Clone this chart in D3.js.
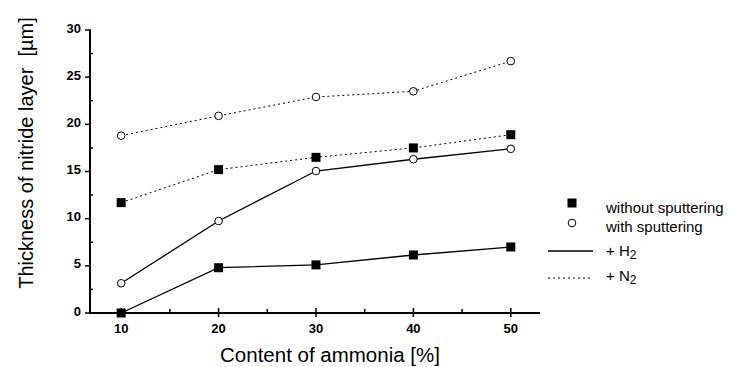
<!DOCTYPE html>
<html>
<head>
<meta charset="utf-8">
<script src="https://cdn.jsdelivr.net/npm/d3@7"></script>
<style>
  body { margin: 0; background: #fff; }
  text { font-family: "Liberation Sans", Arial, sans-serif; }
</style>
</head>
<body>
<div id="chart"></div>
<script>
// data
var ammonia = [10, 20, 30, 40, 50];
var withoutH2 = [0, 4.8, 5.1, 6.15, 7.0];
var withH2 = [3.15, 9.75, 15.05, 16.3, 17.4];
var withoutN2 = [11.7, 15.2, 16.5, 17.5, 18.9];
var withN2 = [18.8, 20.9, 22.9, 23.5, 26.7];
var xTicks = [10, 20, 30, 40, 50];
var yTicks = [0, 5, 10, 15, 20, 25, 30];

var series = [
  {values: withN2, marker: "circle", dash: "2,3"},
  {values: withoutN2, marker: "square", dash: "2,3"},
  {values: withH2, marker: "circle", dash: null},
  {values: withoutH2, marker: "square", dash: null}
];

var width = 729, height = 367;
var margin = {top: 30, right: 189, bottom: 54, left: 90};

var svg = d3.select("#chart")
    .append("svg")
    .attr("width", width)
    .attr("height", height);

var x = d3.scaleLinear()
    .domain([6.8, 53])
    .range([margin.left, width - margin.right]);

var y = d3.scaleLinear()
    .domain([0, 30])
    .range([height - margin.bottom, margin.top]);

// X axis
var xg = svg.append("g")
    .attr("transform", "translate(0," + y(0) + ")");
xg.append("line")
    .attr("x1", x.range()[0]).attr("x2", x.range()[1])
    .attr("stroke", "#000").attr("stroke-width", 2);
xg.selectAll(".major")
    .data(xTicks)
    .enter().append("line")
    .attr("x1", d => x(d)).attr("x2", d => x(d))
    .attr("y1", -5).attr("y2", 4)
    .attr("stroke", "#000").attr("stroke-width", 1.5);
xg.selectAll(".minor")
    .data([15, 25, 35, 45])
    .enter().append("line")
    .attr("x1", d => x(d)).attr("x2", d => x(d))
    .attr("y1", -4).attr("y2", 0)
    .attr("stroke", "#000").attr("stroke-width", 1.5);
xg.selectAll(".lbl")
    .data(xTicks)
    .enter().append("text")
    .attr("x", d => x(d))
    .attr("y", 20)
    .attr("text-anchor", "middle")
    .attr("font-size", 13)
    .attr("font-weight", "bold")
    .text(d => d);

// Y axis
var yg = svg.append("g")
    .attr("transform", "translate(" + x.range()[0] + ",0)");
yg.append("line")
    .attr("y1", y(0) + 1).attr("y2", y(30))
    .attr("stroke", "#000").attr("stroke-width", 2);
yg.selectAll(".major")
    .data(yTicks)
    .enter().append("line")
    .attr("y1", d => y(d)).attr("y2", d => y(d))
    .attr("x1", -5).attr("x2", 1)
    .attr("stroke", "#000").attr("stroke-width", 1.5);
yg.selectAll(".minor")
    .data([2.5, 7.5, 12.5, 17.5, 22.5, 27.5])
    .enter().append("line")
    .attr("y1", d => y(d)).attr("y2", d => y(d))
    .attr("x1", 0).attr("x2", 3)
    .attr("stroke", "#000").attr("stroke-width", 1.5);
yg.selectAll(".lbl")
    .data(yTicks)
    .enter().append("text")
    .attr("x", -9)
    .attr("y", d => y(d) - 2)
    .attr("dy", "0.35em")
    .attr("text-anchor", "end")
    .attr("font-size", 13)
    .attr("font-weight", "bold")
    .text(d => d);

// axis titles
svg.append("text")
    .attr("x", 330)
    .attr("y", 362)
    .attr("text-anchor", "middle")
    .attr("font-size", 20.5)
    .text("Content of ammonia [%]");

svg.append("text")
    .attr("transform", "translate(33,153) rotate(-90)")
    .attr("text-anchor", "middle")
    .attr("font-size", 20)
    .attr("xml:space", "preserve")
    .text("Thickness of nitride layer  [\u00b5m]");

// lines
var line = d3.line()
    .x((d, i) => x(ammonia[i]))
    .y(d => y(d));

series.forEach(function(s) {
  svg.append("path")
      .datum(s.values)
      .attr("d", line)
      .attr("fill", "none")
      .attr("stroke", "#000")
      .attr("stroke-width", s.dash ? 1 : 1.3)
      .attr("stroke-dasharray", s.dash);
});

// markers
function drawMarker(g, kind, cx, cy) {
  if (kind === "square") {
    g.append("rect")
        .attr("x", cx - 4.5).attr("y", cy - 4.5)
        .attr("width", 9).attr("height", 9)
        .attr("fill", "#000");
  } else {
    g.append("circle")
        .attr("cx", cx).attr("cy", cy)
        .attr("r", 3.8)
        .attr("fill", "#fff")
        .attr("stroke", "#000")
        .attr("stroke-width", 1);
  }
}

series.forEach(function(s) {
  s.values.forEach(function(v, i) {
    drawMarker(svg, s.marker, x(ammonia[i]), y(v));
  });
});

// legend
var legend = svg.append("g");
drawMarker(legend, "square", 572, 203);
drawMarker(legend, "circle", 572, 223);
legend.append("line")
    .attr("x1", 548).attr("x2", 593)
    .attr("y1", 251).attr("y2", 251)
    .attr("stroke", "#000").attr("stroke-width", 1.3);
legend.append("line")
    .attr("x1", 548).attr("x2", 593)
    .attr("y1", 278).attr("y2", 278)
    .attr("stroke", "#000").attr("stroke-width", 1)
    .attr("stroke-dasharray", "2,3");

var legendLabels = [
  {y: 213, text: "without sputtering"},
  {y: 232, text: "with sputtering"}
];
legend.selectAll(".ltxt")
    .data(legendLabels)
    .enter().append("text")
    .attr("x", 606)
    .attr("y", d => d.y)
    .attr("font-size", 15)
    .text(d => d.text);

var h2 = legend.append("text").attr("x", 606).attr("y", 256).attr("font-size", 15);
h2.append("tspan").text("+ H");
h2.append("tspan").attr("dy", 3).attr("font-size", 12).text("2");

var n2 = legend.append("text").attr("x", 606).attr("y", 281).attr("font-size", 15);
n2.append("tspan").text("+ N");
n2.append("tspan").attr("dy", 3).attr("font-size", 12).text("2");
</script>
</body>
</html>
